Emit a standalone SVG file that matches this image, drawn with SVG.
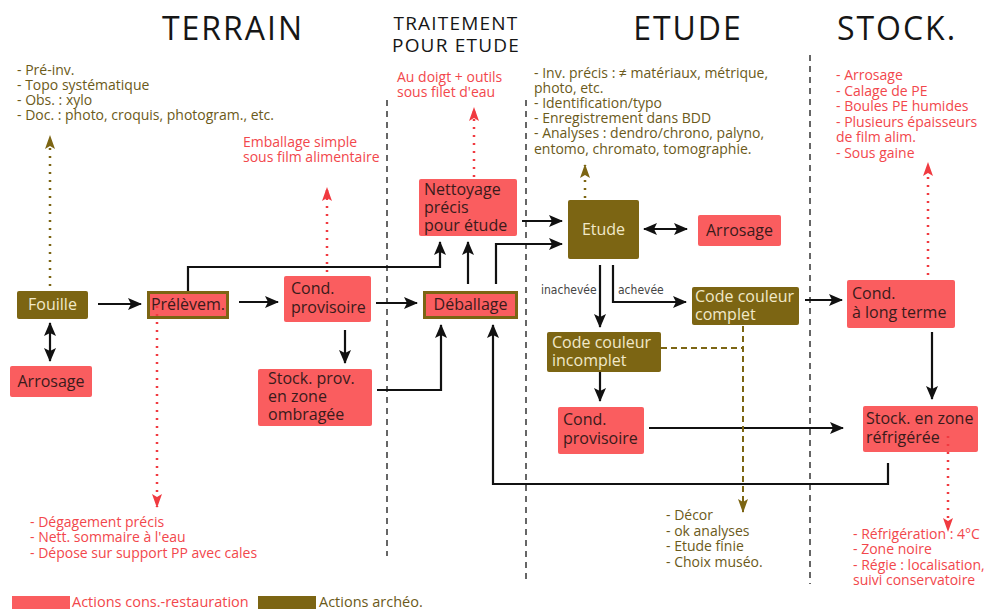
<svg xmlns="http://www.w3.org/2000/svg" width="992" height="610" viewBox="0 0 992 610">
<defs>
<marker id="ab" markerUnits="userSpaceOnUse" markerWidth="14" markerHeight="12" viewBox="0 0 14 12" refX="13" refY="6" orient="auto-start-reverse"><path d="M0,0 L14,6 L0,12 L3,6 z" fill="#111"/></marker>
<marker id="ar" markerUnits="userSpaceOnUse" markerWidth="14" markerHeight="10" viewBox="0 0 14 10" refX="13" refY="5" orient="auto"><path d="M0,0 L14,5 L0,10 L3,5 z" fill="#f03a40"/></marker>
<marker id="ao" markerUnits="userSpaceOnUse" markerWidth="14" markerHeight="10" viewBox="0 0 14 10" refX="13" refY="5" orient="auto"><path d="M0,0 L14,5 L0,10 L3,5 z" fill="#7c6513"/></marker>
</defs>
<style>
.t{font-family:"Open Sans","Noto Sans","DejaVu Sans",sans-serif}
.h{font-size:32px;fill:#161616;letter-spacing:2px}
.h2{font-size:19px;fill:#161616;letter-spacing:1.2px}
.red{fill:#fa5d5f}
.oli{fill:#7c6513}
.tr{font-size:16px;fill:#3a1b1b}
.to{font-size:16px;fill:#f1e9c9}
.nr{font-size:14px;fill:#f2474c}
.no{font-size:14px;fill:#6b5a1a}
.lg{font-size:14.5px}
.sep{stroke:#666;stroke-width:2;stroke-dasharray:6 5;fill:none}
.c{stroke:#111;stroke-width:2.2;fill:none}
.dr{stroke:#f03a40;stroke-width:2.5;stroke-dasharray:2 6;fill:none}
.do{stroke:#7c6513;stroke-width:2.5;stroke-dasharray:2 6;fill:none}
.dd{stroke:#7c6513;stroke-width:2;stroke-dasharray:6 4;fill:none}
.lab{font-family:"DejaVu Sans Condensed","Liberation Sans Narrow",sans-serif;font-size:12px;fill:#444}
</style>
<rect width="992" height="610" fill="#fff"/>
<g id="separators">
<path class="sep" d="M387,100 V556"/>
<path class="sep" d="M526,100 V582"/>
<path class="sep" d="M810,55 V584"/>
</g>
<g id="titles" class="t">
<text class="h" x="233" y="40" text-anchor="middle">TERRAIN</text>
<text class="h2" x="456" y="30" text-anchor="middle">TRAITEMENT</text>
<text class="h2" x="456" y="52" text-anchor="middle">POUR ETUDE</text>
<text class="h" x="688" y="40" text-anchor="middle">ETUDE</text>
<text class="h" x="897" y="40" text-anchor="middle">STOCK.</text>
</g>
<g id="notes" class="t">
<text class="no" x="17" y="75">- Pré-inv.</text>
<text class="no" x="17" y="90">- Topo systématique</text>
<text class="no" x="17" y="105">- Obs. : xylo</text>
<text class="no" x="17" y="120">- Doc. : photo, croquis, photogram., etc.</text>
<text class="nr" x="243" y="147">Emballage simple</text>
<text class="nr" x="243" y="162">sous film alimentaire</text>
<text class="nr" x="397" y="82">Au doigt + outils</text>
<text class="nr" x="397" y="97">sous filet d'eau</text>
<text class="no" x="534" y="78">- Inv. précis : ≠ matériaux, métrique,</text>
<text class="no" x="534" y="93">photo, etc.</text>
<text class="no" x="534" y="108">- Identification/typo</text>
<text class="no" x="534" y="123">- Enregistrement dans BDD</text>
<text class="no" x="534" y="138">- Analyses : dendro/chrono, palyno,</text>
<text class="no" x="534" y="154">entomo, chromato, tomographie.</text>
<text class="nr" x="836" y="80">- Arrosage</text>
<text class="nr" x="836" y="96">- Calage de PE</text>
<text class="nr" x="836" y="111">- Boules PE humides</text>
<text class="nr" x="836" y="127">- Plusieurs épaisseurs</text>
<text class="nr" x="836" y="142">de film alim.</text>
<text class="nr" x="836" y="158">- Sous gaine</text>
<text class="nr" x="30" y="527">- Dégagement précis</text>
<text class="nr" x="30" y="542">- Nett. sommaire à l'eau</text>
<text class="nr" x="30" y="558">- Dépose sur support PP avec cales</text>
<text class="no" x="666" y="520">- Décor</text>
<text class="no" x="666" y="536">- ok analyses</text>
<text class="no" x="666" y="551">- Etude finie</text>
<text class="no" x="666" y="567">- Choix muséo.</text>
<text class="nr" x="853" y="539">- Réfrigération : 4°C</text>
<text class="nr" x="853" y="554">- Zone noire</text>
<text class="nr" x="853" y="570">- Régie : localisation,</text>
<text class="nr" x="853" y="585">suivi conservatoire</text>
</g>
<g id="fouille"><rect class="oli" x="17" y="291" width="71" height="28" rx="2"/><text class="t to" x="52.5" y="310" text-anchor="middle">Fouille</text></g>
<g id="arrosage1"><rect class="red" x="10" y="366" width="82" height="31" rx="2"/><text class="t tr" x="51" y="387" text-anchor="middle">Arrosage</text></g>
<g id="prelevem"><rect x="148.5" y="292.5" width="79" height="25" fill="#fa5d5f" stroke="#7c6513" stroke-width="3"/><text class="t tr" x="188" y="310" text-anchor="middle">Prélèvem.</text></g>
<g id="condprov1"><rect class="red" x="284" y="276" width="87" height="46" rx="2"/><text class="t tr" x="291" y="294">Cond.</text><text class="t tr" x="291" y="313">provisoire</text></g>
<g id="stockprov"><rect class="red" x="258" y="369" width="114" height="57" rx="2"/><text class="t tr" x="268" y="384">Stock. prov.</text><text class="t tr" x="268" y="402">en zone</text><text class="t tr" x="268" y="420">ombragée</text></g>
<g id="deballage"><rect x="424.5" y="292.5" width="92" height="25" fill="#fa5d5f" stroke="#7c6513" stroke-width="3"/><text class="t tr" x="470.5" y="310" text-anchor="middle">Déballage</text></g>
<g id="nettoyage"><rect class="red" x="419" y="179" width="98" height="57" rx="2"/><text class="t tr" x="424" y="195">Nettoyage</text><text class="t tr" x="424" y="213">précis</text><text class="t tr" x="424" y="231">pour étude</text></g>
<g id="etude"><rect class="oli" x="568" y="200" width="71" height="59" rx="2"/><text class="t to" x="603.5" y="235" text-anchor="middle">Etude</text></g>
<g id="arrosage2"><rect class="red" x="698" y="215" width="83" height="31" rx="2"/><text class="t tr" x="739.5" y="236" text-anchor="middle">Arrosage</text></g>
<g id="codecomplet"><rect class="oli" x="692" y="287" width="107" height="38" rx="2"/><text class="t to" x="695" y="302">Code couleur</text><text class="t to" x="695" y="320">complet</text></g>
<g id="codeincomplet"><rect class="oli" x="547" y="332" width="114" height="40" rx="2"/><text class="t to" x="552" y="348">Code couleur</text><text class="t to" x="552" y="366">incomplet</text></g>
<g id="condprov2"><rect class="red" x="558" y="407" width="86" height="47" rx="2"/><text class="t tr" x="563" y="425">Cond.</text><text class="t tr" x="563" y="444">provisoire</text></g>
<g id="condlong"><rect class="red" x="847" y="280" width="108" height="48" rx="2"/><text class="t tr" x="852" y="299">Cond.</text><text class="t tr" x="852" y="318">à long terme</text></g>
<g id="stockrefrig"><rect class="red" x="863" y="406" width="115" height="46" rx="2"/><text class="t tr" x="866" y="424">Stock. en zone</text><text class="t tr" x="866" y="443">réfrigérée</text></g>
<g id="connectors">
<path class="c" d="M98,304 H141" marker-end="url(#ab)"/>
<path class="c" d="M50,323 V361" marker-start="url(#ab)" marker-end="url(#ab)"/>
<path class="c" d="M239,302 H278" marker-end="url(#ab)"/>
<path class="c" d="M188,291 V267 H440 V242" marker-end="url(#ab)"/>
<path class="c" d="M376,303 H417" marker-end="url(#ab)"/>
<path class="c" d="M345,330 V363" marker-end="url(#ab)"/>
<path class="c" d="M377,390 H441 V325" marker-end="url(#ab)"/>
<path class="c" d="M468,284 V242" marker-end="url(#ab)"/>
<path class="c" d="M496,284 V244 H562" marker-end="url(#ab)"/>
<path class="c" d="M522,221 H562" marker-end="url(#ab)"/>
<path class="c" d="M644,229 H687" marker-start="url(#ab)" marker-end="url(#ab)"/>
<path class="c" d="M600,265 V327" marker-end="url(#ab)"/>
<path class="c" d="M613,265 V302 H686" marker-end="url(#ab)"/>
<path class="c" d="M805,300 H842" marker-end="url(#ab)"/>
<path class="c" d="M600,372 V401" marker-end="url(#ab)"/>
<path class="c" d="M649,428 H843" marker-end="url(#ab)"/>
<path class="c" d="M932,332 V399" marker-end="url(#ab)"/>
<path class="c" d="M888,463 V484 H493 V325" marker-end="url(#ab)"/>
<path class="dd" d="M661,348 H743"/>
<path class="dd" d="M743,326 V512" marker-end="url(#ao)"/>
<path class="do" d="M50,286 V136" marker-end="url(#ao)"/>
<path class="do" d="M585,198 V165" marker-end="url(#ao)"/>
<path class="dr" d="M327,272 V188" marker-end="url(#ar)"/>
<path class="dr" d="M157,306 V507" marker-end="url(#ar)"/>
<path class="dr" d="M474,177 V108" marker-end="url(#ar)"/>
<path class="dr" d="M928,275 V163" marker-end="url(#ar)"/>
<path class="dr" d="M948,436 V531" marker-end="url(#ar)"/>
<text class="lab" x="541" y="294">inachevée</text>
<text class="lab" x="618" y="294">achevée</text>
</g>
<g id="legend" class="t">
<rect class="red" x="12" y="596" width="58" height="13"/>
<text class="nr lg" x="72" y="607">Actions cons.-restauration</text>
<rect class="oli" x="258" y="596" width="58" height="13"/>
<text class="no lg" x="319" y="607">Actions archéo.</text>
</g>
</svg>
